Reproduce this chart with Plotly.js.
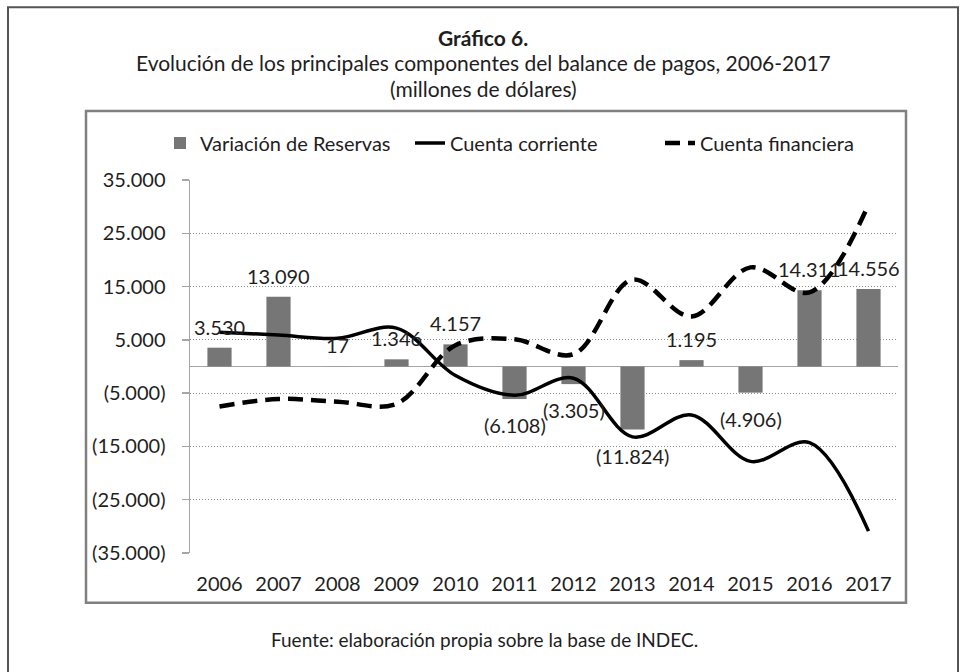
<!DOCTYPE html>
<html>
<head>
<meta charset="utf-8">
<script src="https://cdn.plot.ly/plotly-3.0.1.min.js"></script>
<style>html,body{margin:0;padding:0;background:#fff;}#chart{width:966px;height:672px;}</style>
</head>
<body>
<div id="chart"></div>
<script>
// ---- data ----
const years = ['2006','2007','2008','2009','2010','2011','2012','2013','2014','2015','2016','2017'];
const variacionReservas = [3530, 13090, 17, 1346, 4157, -6108, -3305, -11824, 1195, -4906, 14311, 14556];
const cuentaCorriente = [6450, 5900, 5300, 7200, -1700, -5400, -2200, -13200, -9100, -17800, -14300, -30900];
const cuentaFinanciera = [-7500, -6100, -6600, -7000, 4000, 5100, 2300, 16300, 9400, 18600, 13900, 30400];
const yTickVals = [35000, 25000, 15000, 5000, -5000, -15000, -25000, -35000];
const yTickText = ['35.000','25.000','15.000','5.000','(5.000)','(15.000)','(25.000)','(35.000)'];

function fmt(v){
  const s = Math.abs(v).toString().replace(/\B(?=(\d{3})+(?!\d))/g, '.');
  return v < 0 ? '(' + s + ')' : s;
}

const FONT = 'Lato, "Open Sans", sans-serif';
const TXT = '#1e1e1e';

// plot-area geometry in pixels (for decorative frames only)
const W = 966, H = 672, L = 190, R = 898, T = 180, B = 553.3;
const px = x => (x - L) / (R - L);
const py = y => (B - y) / (B - T);

const traces = [
  {
    type: 'bar', name: 'Variación de Reservas', x: years, y: variacionReservas,
    marker: {color: '#767676'}
  },
  {
    type: 'scatter', mode: 'lines', name: 'Cuenta corriente', x: years, y: cuentaCorriente,
    line: {color: '#000', width: 3.5, shape: 'spline', smoothing: 1}
  },
  {
    type: 'scatter', mode: 'lines', name: 'Cuenta financiera', x: years, y: cuentaFinanciera,
    line: {color: '#000', width: 4.5, shape: 'spline', smoothing: 1, dash: '15px,8px'}
  }
];

// bar value labels, placed on the category index through the x axis
const annotations = variacionReservas.map((v, i) => ({
  x: i, y: v, xref: 'x', yref: 'y', text: fmt(v), showarrow: false,
  yshift: v >= 0 ? 21 : -26,
  font: {family: FONT, size: 20, color: TXT}
}));

const titleLines = [
  {text: '<b>Gráfico 6.</b>', y: 37},
  {text: 'Evolución de los principales componentes del balance de pagos, 2006-2017', y: 62},
  {text: '(millones de dólares)', y: 88}
];
titleLines.forEach(t => annotations.push({
  xref: 'paper', yref: 'paper', x: px(483), y: py(t.y), xanchor: 'center', yanchor: 'middle',
  text: t.text, showarrow: false, font: {family: FONT, size: 21, color: TXT}
}));
annotations.push({
  xref: 'paper', yref: 'paper', x: px(484), y: py(640), xanchor: 'center', yanchor: 'middle',
  text: 'Fuente: elaboración propia sobre la base de INDEC.', showarrow: false,
  font: {family: FONT, size: 19, color: TXT}
});

const shapes = [
  {type: 'rect', xref: 'paper', yref: 'paper', x0: px(8), x1: px(958), y0: py(7), y1: py(690),
   line: {color: '#555', width: 2}, fillcolor: 'rgba(0,0,0,0)', layer: 'below'},
  {type: 'rect', xref: 'paper', yref: 'paper', x0: px(86), x1: px(906), y0: py(111), y1: py(603),
   line: {color: '#808080', width: 2.5}, fillcolor: 'rgba(0,0,0,0)', layer: 'below'}
];

const layout = {
  width: W, height: H,
  margin: {l: L, r: W - R, t: T, b: H - B, pad: 0},
  paper_bgcolor: '#fff', plot_bgcolor: 'rgba(0,0,0,0)',
  font: {family: FONT, size: 20, color: TXT},
  showlegend: true,
  legend: {
    orientation: 'h', x: px(160), xanchor: 'left', y: py(143), yanchor: 'middle',
    font: {family: FONT, size: 20, color: TXT}, bgcolor: 'rgba(0,0,0,0)',
    traceorder: 'normal', entrywidth: 205, entrywidthmode: 'pixels'
  },
  bargap: 0.59,
  xaxis: {
    type: 'category', range: [-0.5, years.length - 0.5],
    showgrid: false, showline: false, zeroline: false, ticks: '',
    ticklabelstandoff: 17, tickfont: {family: FONT, size: 20, color: TXT}, fixedrange: true
  },
  yaxis: {
    range: [-35000, 35000], tickvals: yTickVals, ticktext: yTickText,
    showgrid: true, gridcolor: '#8c8c8c', gridwidth: 1, griddash: '1px,2px',
    zeroline: true, zerolinecolor: '#a6a6a6', zerolinewidth: 1.5,
    showline: true, linecolor: '#a6a6a6', linewidth: 1.5,
    ticks: 'outside', ticklen: 7, tickcolor: '#a6a6a6', tickwidth: 1.5,
    ticklabelstandoff: 12, tickfont: {family: FONT, size: 20, color: TXT}, fixedrange: true
  },
  annotations: annotations,
  shapes: shapes
};

Plotly.newPlot('chart', traces, layout, {displayModeBar: false, staticPlot: true});
</script>
</body>
</html>
